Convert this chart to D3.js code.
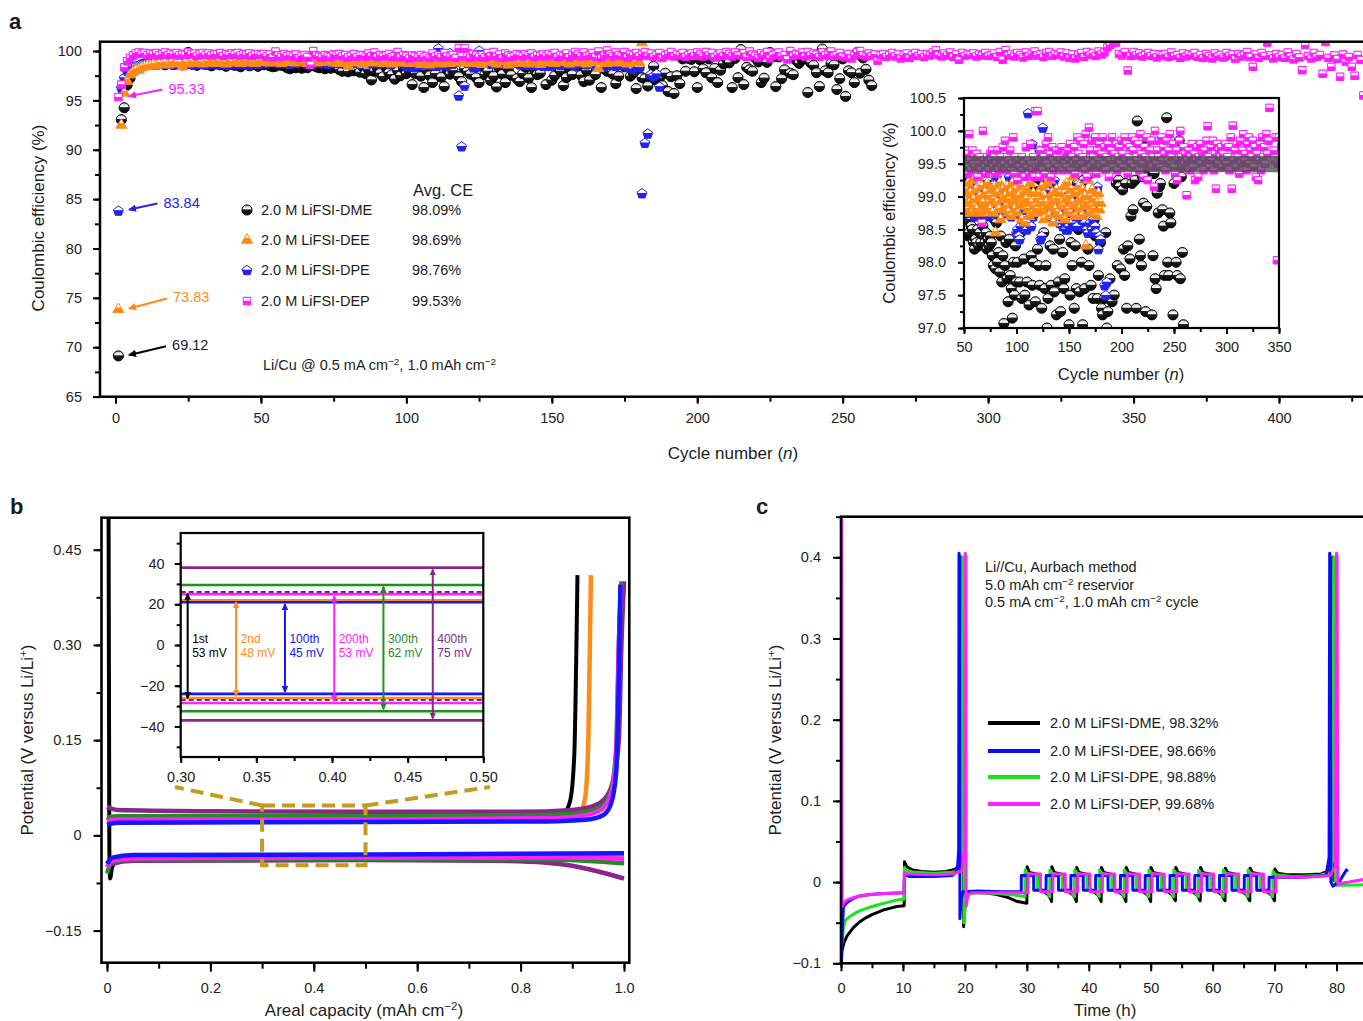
<!DOCTYPE html>
<html>
<head>
<meta charset="utf-8">
<script src="https://cdn.jsdelivr.net/npm/d3@7/dist/d3.min.js"></script>
<style>
html,body{margin:0;padding:0;background:#fff;}
svg{display:block;}
text{font-family:"Liberation Sans",Arial,Helvetica,sans-serif;fill:#1c1c1c;}
</style>
</head>
<body>
<svg id="fig" width="1363" height="1021"></svg>
<script>
// ================= DATA =================
// ---- Panel a : Coulombic efficiency (%) per cycle, starting at cycle 1 ----
const seriesA = ["2.0 M LiFSI-DME","2.0 M LiFSI-DEE","2.0 M LiFSI-DPE","2.0 M LiFSI-DEP"];
const avgCEA = ["98.09%","98.69%","98.76%","99.53%"];
const firstCE = [69.12, 73.83, 83.84, 95.33];

const ceDME = [
69.12,93.05,94.25,96.55,97.25,97.95,98.3,98.45,98.6,98.7,
98.75,98.8,98.65,98.9,98.7,98.85,98.6,98.95,98.8,98.7,
98.9,98.75,98.6,98.85,99.85,98.7,98.8,98.55,98.9,98.7,
98.65,98.8,98.5,98.75,98.9,98.6,98.7,98.45,98.8,98.65,
98.55,98.75,98.4,98.7,98.85,98.5,98.6,98.75,98.45,98.7,
98.6,98.75,98.5,98.4,98.45,98.65,98.55,98.5,98.3,98.2,
98.35,98.3,98.5,98.25,98.45,98.3,98.7,98.55,98.4,98.3,
98.45,98.2,98.35,98.25,98.4,98.3,98.1,97.95,98.65,97.9,
98.6,98.0,98.15,97.85,98.4,97.7,98.1,97.07,97.95,98.3,
97.75,97.4,98.35,97.8,97.6,97.15,98.0,97.5,98.25,97.7,
98.0,96.6,97.7,98.45,97.45,96.3,98.05,97.5,96.8,97.7,
98.55,97.35,96.4,98.1,97.65,98.0,99.15,97.4,96.9,98.2,
97.95,97.65,99.25,97.3,96.8,98.45,97.6,97.95,97.0,97.45,
96.35,98.25,97.65,96.8,98.2,97.55,99.05,97.2,96.9,97.7,
98.35,97.25,96.3,98.15,97.6,97.75,98.55,96.6,99.0,97.05,
97.5,98.3,97.95,96.5,97.3,98.25,97.6,99.2,98.5,97.55,
96.9,98.0,97.05,99.25,97.6,98.55,96.3,98.2,97.95,99.35,
97.65,96.7,97.45,98.65,98.4,99.1,97.45,97.8,96.2,98.3,
97.3,97.2,96.45,97.45,98.45,97.0,97.25,96.5,97.75,95.9,
97.4,95.7,97.5,96.7,99.2,97.95,99.25,99.15,97.9,96.3,
99.1,98.2,97.8,99.2,97.3,98.25,96.8,98.05,98.7,99.2,
98.8,96.3,99.25,97.3,100.15,96.6,98.35,98.1,97.95,99.3,
98.9,96.8,97.25,98.85,99.85,99.4,96.4,99.4,97.2,98.1,
99.35,97.75,97.6,99.05,98.75,99.15,99.2,95.8,98.8,98.55,
97.8,96.4,100.2,98.0,97.8,98.75,98.6,96.1,97.2,99.2,
95.4,98.0,97.8,96.8,99.85,97.75,99.3,98.15,97.05,96.5
];
const ceDEE = [
73.83,92.5,95.75,96.95,97.6,97.85,98.05,98.1,98.3,98.4,
98.45,98.5,98.6,98.55,98.7,98.65,98.75,98.6,98.8,99.55,
98.7,98.75,98.4,98.8,98.7,98.85,98.75,98.9,98.8,98.7,
98.85,98.8,98.9,98.75,98.95,98.8,98.85,98.7,98.9,98.8,
98.85,98.95,98.75,98.9,98.8,99.0,98.85,98.75,98.9,98.85,
98.95,99.1,98.8,99.2,98.9,99.05,98.75,99.25,98.95,98.85,
99.1,98.8,99.3,98.95,99.0,98.75,99.15,98.9,98.8,99.05,
98.85,99.2,98.9,99.0,98.8,99.1,98.75,98.95,99.15,98.45,
98.9,99.05,98.8,99.2,98.65,98.95,99.1,98.8,99.0,98.85,
99.15,98.75,98.95,99.05,98.7,99.2,98.9,98.8,99.1,98.95,
98.75,99.0,98.85,99.15,98.65,98.9,99.05,98.6,98.95,99.1,
98.8,98.7,99.2,98.9,98.75,99.05,98.85,99.3,98.8,98.95,
99.05,98.75,98.9,99.15,98.8,98.65,99.0,98.9,99.2,98.85,
98.7,99.25,98.9,99.05,98.6,98.95,98.8,99.1,98.75,98.95,
99.05,98.7,98.9,98.85,99.15,98.65,98.95,99.2,98.8,99.0,
98.75,99.1,98.9,99.3,98.85,98.7,99.05,98.9,99.15,98.8,
98.95,98.7,99.1,98.85,99.0,98.25,98.9,99.25,98.75,99.0,
98.85,99.1,98.8,98.95,99.35,98.7,98.9,99.05,98.8,98.9,
100.85
];
const ceDPE = [
83.84,96.3,97.3,98.0,98.3,98.4,98.5,98.55,98.6,98.65,
98.7,98.6,98.75,98.65,98.7,98.8,98.65,98.75,98.7,98.6,
98.75,98.7,98.65,98.8,98.7,98.75,98.6,98.8,98.7,98.75,
98.65,98.8,98.7,98.75,98.65,98.8,98.7,98.6,98.75,98.7,
98.8,98.65,98.75,98.7,98.85,98.6,98.75,98.8,98.7,98.75,
99.15,98.8,99.3,98.9,99.05,98.75,99.2,98.85,99.0,98.7,
99.1,98.8,99.35,98.95,99.0,98.75,98.9,99.15,98.85,99.0,
98.8,99.25,98.7,98.95,99.1,98.85,98.75,99.0,98.9,99.2,
99.3,98.8,99.1,98.7,98.95,99.05,98.75,98.9,98.8,99.1,
98.75,98.95,99.3,98.85,98.7,99.0,98.9,99.3,98.75,98.45,
98.5,98.4,98.35,98.55,98.7,98.9,98.6,98.8,98.55,98.5,
100.27,98.6,98.85,98.55,99.8,98.7,98.9,95.5,90.35,96.5,
98.8,99.7,98.35,98.4,100.05,98.9,99.05,99.65,98.7,99.0,
98.85,99.1,98.75,99.2,98.95,99.25,98.8,99.1,98.65,98.9,
98.6,98.95,98.7,98.55,98.8,98.6,98.5,98.65,98.5,98.55,
98.75,98.9,98.6,99.1,98.85,98.7,99.0,98.55,99.2,98.8,
99.15,98.65,98.9,98.75,98.6,98.95,98.5,98.45,98.8,98.6,
98.9,98.5,98.65,98.85,98.55,98.45,99.15,98.2,98.4,98.35,
85.6,90.7,91.65,97.65,97.5,97.7,96.4
];
const ceDEP = [
95.33,96.6,98.35,98.95,99.3,99.55,99.75,99.85,99.7,99.8,
99.6,99.75,99.65,99.8,99.55,99.7,99.85,99.6,99.75,99.65,
99.8,99.55,99.7,99.6,99.85,99.65,99.75,99.5,99.7,99.8,
99.6,99.75,99.55,99.7,99.65,99.8,99.5,99.7,99.6,99.75,
99.65,99.8,99.55,99.7,99.6,99.75,99.5,99.65,99.7,99.6,
99.7,99.45,99.65,99.35,99.95,99.55,99.4,99.7,99.5,99.6,
99.45,99.65,99.3,99.5,99.6,99.4,98.6,100.0,99.55,99.45,
99.35,99.6,99.5,99.4,99.65,99.55,99.7,99.45,99.6,99.35,
99.5,99.7,99.4,99.55,99.6,99.45,99.75,99.5,99.85,99.4,
99.6,99.45,99.55,99.7,99.4,99.5,99.9,99.35,99.6,99.5,
99.25,99.55,99.45,99.35,99.6,99.4,99.5,99.3,99.75,99.45,
99.55,99.35,99.8,99.5,99.4,99.6,99.3,100.3,99.45,100.3,
99.5,99.3,99.7,99.55,99.4,99.6,99.35,99.8,99.5,99.9,
99.45,99.65,99.3,99.75,99.55,99.4,99.5,99.7,99.6,99.45,
99.7,99.55,99.75,99.4,99.6,99.5,99.65,99.45,99.7,99.55,
99.8,99.4,99.6,99.5,99.75,99.35,99.55,99.9,99.65,99.45,
99.85,99.5,99.6,99.8,99.4,99.95,99.3,99.55,100.05,99.7,
99.45,99.85,99.6,99.5,99.9,99.35,99.7,99.55,99.8,99.45,
99.65,99.9,99.5,99.75,99.4,99.6,99.8,99.3,99.55,99.7,
99.9,99.45,99.65,99.55,99.8,99.4,99.6,99.75,99.5,99.85,
99.65,99.45,99.9,99.55,99.8,99.35,99.6,99.75,99.5,99.9,
99.7,99.45,99.85,99.6,99.55,99.8,99.4,99.95,99.65,99.5,
99.3,99.75,99.6,99.9,99.25,99.55,99.7,99.85,99.45,99.6,
99.15,100.0,99.5,99.7,99.6,99.85,99.45,99.9,99.55,99.75,
99.65,99.4,99.85,99.55,99.7,99.95,99.5,99.6,99.8,99.45,
99.35,99.7,99.25,99.55,99.85,100.0,99.6,99.45,99.75,99.5,
99.65,99.02,99.55,99.7,99.4,99.6,99.8,99.45,99.65,99.25,
99.55,99.75,99.3,99.6,99.8,99.5,99.65,99.4,99.7,99.55,
99.85,100.07,99.6,99.45,99.75,99.55,99.85,99.4,99.65,99.12,
99.8,99.5,99.7,99.6,99.75,99.45,99.65,99.55,99.8,99.5,
99.6,99.75,99.4,99.9,99.12,100.08,99.55,99.7,99.45,99.8,
99.6,99.35,99.85,99.5,99.7,99.95,99.55,99.65,99.4,99.8,
99.9,99.5,99.7,99.6,99.85,99.45,99.75,99.3,99.65,99.25,
99.55,99.8,99.4,99.9,99.6,99.75,99.5,99.95,99.65,99.85,
100.35,100.6,100.8,100.85,99.7,99.55,99.9,98.03,99.5,99.9,
99.55,99.75,99.45,99.6,99.8,99.5,99.7,99.35,99.65,99.55,
99.7,99.4,99.85,99.5,99.6,99.3,99.75,99.45,99.65,99.55,
99.8,99.4,99.6,99.3,99.7,99.5,99.25,99.75,99.45,99.6,
99.35,99.8,99.5,99.65,99.2,99.7,99.45,99.6,99.9,99.4,
98.4,99.65,99.3,99.8,99.5,100.85,99.55,99.25,99.7,99.4,
99.6,99.3,99.85,99.45,99.15,99.7,99.35,98.05,100.6,99.5,
99.25,99.8,99.4,99.6,97.7,100.9,99.3,98.4,99.55,99.2,
97.4,99.65,98.9,99.4,98.4,97.5,99.6,99.1,95.5
];
const ticksAx = [0,50,100,150,200,250,300,350,400];
const ticksAy = [65,70,75,80,85,90,95,100];
const ticksInsetX = [50,100,150,200,250,300,350];
const ticksInsetY = [97.0,97.5,98.0,98.5,99.0,99.5,100.0,100.5];
const bandCE = [99.37, 99.62];

// ---- Panel b : voltage profiles [capacity mAh cm-2, potential V] ----
const cycleNamesB = ["1st","2nd","100th","200th","300th","400th"];
const overpotB = ["53 mV","48 mV","45 mV","53 mV","62 mV","75 mV"];
const plate1st = [[0,0.52],[0.003,0.52],[0.0045,-0.02],[0.006,-0.068],[0.01,-0.05],[0.02,-0.04],[0.05,-0.035],[0.2,-0.033],[0.5,-0.033],[0.8,-0.034],[1.0,-0.035]];
const strip1st = [[0,0.024],[0.01,0.026],[0.3,0.026],[0.6,0.027],[0.8,0.028],[0.86,0.031],[0.885,0.037],[0.896,0.055],[0.904,0.13],[0.908,0.3],[0.91,0.41]];
const plate2nd = [[0,-0.05],[0.01,-0.04],[0.05,-0.034],[0.5,-0.033],[1.0,-0.034]];
const strip2nd = [[0,0.02],[0.3,0.022],[0.8,0.023],[0.9,0.027],[0.915,0.035],[0.925,0.06],[0.931,0.15],[0.934,0.3],[0.936,0.41]];
const plate100 = [[0,-0.045],[0.01,-0.035],[0.05,-0.031],[0.5,-0.03],[1.0,-0.028]];
const strip100 = [[0,0.017],[0.02,0.02],[0.5,0.021],[0.85,0.022],[0.93,0.025],[0.96,0.032],[0.975,0.05],[0.985,0.1],[0.99,0.25],[0.993,0.395]];
const plate200 = [[0,-0.05],[0.01,-0.04],[0.05,-0.036],[0.5,-0.035],[0.9,-0.035],[1.0,-0.037]];
const strip200 = [[0,0.022],[0.02,0.025],[0.5,0.025],[0.85,0.027],[0.92,0.031],[0.955,0.04],[0.975,0.065],[0.985,0.13],[0.99,0.3],[0.994,0.395]];
const plate300 = [[0,-0.06],[0.01,-0.042],[0.05,-0.038],[0.5,-0.037],[0.85,-0.038],[0.95,-0.041],[1.0,-0.044]];
const strip300 = [[0,0.028],[0.02,0.03],[0.5,0.03],[0.85,0.032],[0.92,0.036],[0.955,0.045],[0.975,0.07],[0.985,0.14],[0.99,0.3],[0.995,0.4]];
const plate400 = [[0,-0.05],[0.01,-0.045],[0.05,-0.04],[0.5,-0.039],[0.75,-0.04],[0.85,-0.043],[0.9,-0.048],[0.95,-0.057],[1.0,-0.068]];
const strip400 = [[0,0.045],[0.02,0.04],[0.2,0.038],[0.5,0.037],[0.8,0.037],[0.9,0.04],[0.94,0.046],[0.965,0.06],[0.98,0.09],[0.99,0.15],[0.995,0.3],[1.0,0.4]];
// inset (mV) plateau levels at 0.30-0.50 mAh cm-2
const insetUpperMV = [26, 22, 21, 25, 29.5, 38];
const insetLowerMV = [-27, -26, -24, -28.5, -32.5, -37];
const ticksBx = [0,0.2,0.4,0.6,0.8,1.0];
const ticksBy = [-0.15,0,0.15,0.30,0.45];
const ticksBinX = [0.30,0.35,0.40,0.45,0.50];
const ticksBinY = [-40,-20,0,20,40];

// ---- Panel c : Aurbach test [time h, potential V] ----
const legendC = ["2.0 M LiFSI-DME, 98.32%","2.0 M LiFSI-DEE, 98.66%","2.0 M LiFSI-DPE, 98.88%","2.0 M LiFSI-DEP, 99.68%"];
const aurDME = [[0.05,-0.1],[0.15,-0.085],[0.5,-0.074],[1,-0.066],[2,-0.056],[3,-0.049],[4,-0.044],[5,-0.04],[6,-0.037],[7,-0.034],[8,-0.032],[9,-0.03],[10.2,-0.029],
[10.25,0.025],[10.6,0.019],[11.5,0.015],[13,0.013],[15,0.012],[17,0.013],[18.5,0.016],[19.2,0.022],[19.45,0.05],[19.55,0.25],[19.6,0.4],[19.7,0.4],
[19.8,-0.055],[20.0,-0.03],[20.3,-0.015],[21,-0.012],[23,-0.013],[25,-0.015],[27,-0.019],[28.5,-0.024],[30,-0.026],
[30.05,0.019],[30.4,0.012],[32,0.009],[32.03,-0.008],[32.8,-0.012],[33.5,-0.016],[33.85,-0.021],[34,-0.024],
[34.05,0.019],[34.4,0.012],[36,0.009],[36.03,-0.008],[36.8,-0.012],[37.5,-0.016],[37.85,-0.021],[38,-0.024],
[38.05,0.018],[38.4,0.012],[40,0.009],[40.03,-0.008],[40.8,-0.012],[41.5,-0.016],[41.85,-0.021],[42,-0.024],
[42.05,0.018],[42.4,0.012],[44,0.009],[44.03,-0.008],[44.8,-0.012],[45.5,-0.016],[45.85,-0.021],[46,-0.024],
[46.05,0.018],[46.4,0.012],[48,0.009],[48.03,-0.008],[48.8,-0.012],[49.5,-0.016],[49.85,-0.021],[50,-0.024],
[50.05,0.018],[50.4,0.012],[52,0.009],[52.03,-0.008],[52.8,-0.012],[53.5,-0.016],[53.85,-0.021],[54,-0.023],
[54.05,0.018],[54.4,0.012],[56,0.009],[56.03,-0.008],[56.8,-0.012],[57.5,-0.016],[57.85,-0.021],[58,-0.023],
[58.05,0.018],[58.4,0.012],[60,0.009],[60.03,-0.008],[60.8,-0.012],[61.5,-0.016],[61.85,-0.021],[62,-0.023],
[62.05,0.017],[62.4,0.012],[64,0.009],[64.03,-0.008],[64.8,-0.012],[65.5,-0.016],[65.85,-0.021],[66,-0.023],
[66.05,0.017],[66.4,0.012],[68,0.009],[68.03,-0.008],[68.8,-0.012],[69.5,-0.016],[69.85,-0.021],[70,-0.023],
[70.05,0.016],[70.5,0.011],[72,0.009],[75,0.009],[77.5,0.01],[78.8,0.014],[79.2,0.03],[79.4,0.4],[79.5,0.4],[79.6,0.0]];
const aurDEE = [[0.05,-0.095],[0.2,-0.06],[0.4,-0.03],[1,-0.025],[2,-0.02],[3,-0.017],[5,-0.015],[7,-0.014],[10.2,-0.013],
[10.25,0.009],[11,0.007],[15,0.007],[18,0.008],[18.8,0.015],[19.0,0.04],[19.05,0.405],[19.15,0.4],[19.2,-0.045],[19.4,-0.02],[19.7,-0.012],[22,-0.011],[26,-0.012],[29.1,-0.012],
[29.12,0.008],[31.1,0.008],[31.12,-0.01],[33.1,-0.01],
[33.12,0.008],[35.1,0.008],[35.12,-0.01],[37.1,-0.01],
[37.12,0.008],[39.1,0.008],[39.12,-0.01],[41.1,-0.01],
[41.12,0.008],[43.1,0.008],[43.12,-0.01],[45.1,-0.01],
[45.12,0.008],[47.1,0.008],[47.12,-0.01],[49.1,-0.01],
[49.12,0.008],[51.1,0.008],[51.12,-0.01],[53.1,-0.01],
[53.12,0.008],[55.1,0.008],[55.12,-0.01],[57.1,-0.01],
[57.12,0.008],[59.1,0.008],[59.12,-0.01],[61.1,-0.01],
[61.12,0.008],[63.1,0.008],[63.12,-0.01],[65.1,-0.01],
[65.12,0.008],[67.1,0.008],[67.12,-0.01],[69.1,-0.01],
[69.12,0.006],[74,0.006],[78.3,0.008],[78.8,0.03],[78.9,0.405],[79.0,0.4],[79.1,0.0],[79.4,-0.005],[80.4,0.0],[81.2,0.01],[81.6,0.015],[81.8,0.013]];
const aurDPE = [[0.2,-0.075],[0.4,-0.055],[0.7,-0.047],[1.5,-0.042],[2.5,-0.037],[3.5,-0.034],[5,-0.03],[6.5,-0.027],[8,-0.024],[9,-0.022],[10.2,-0.021],
[10.25,0.018],[10.6,0.014],[12,0.012],[15,0.011],[18,0.012],[19.2,0.016],[19.5,0.03],[19.6,0.2],[19.65,0.4],[19.75,0.4],
[19.85,-0.05],[20.1,-0.025],[20.5,-0.015],[22,-0.013],[25,-0.014],[28,-0.016],[29.7,-0.018],
[29.73,0.015],[30.1,0.011],[31.7,0.008],[31.73,-0.007],[32.5,-0.01],[33.2,-0.012],[33.55,-0.016],[33.7,-0.018],
[33.73,0.015],[34.1,0.011],[35.7,0.008],[35.73,-0.007],[36.5,-0.01],[37.2,-0.012],[37.55,-0.016],[37.7,-0.018],
[37.73,0.015],[38.1,0.011],[39.7,0.008],[39.73,-0.007],[40.5,-0.01],[41.2,-0.012],[41.55,-0.016],[41.7,-0.018],
[41.73,0.015],[42.1,0.011],[43.7,0.008],[43.73,-0.007],[44.5,-0.01],[45.2,-0.012],[45.55,-0.016],[45.7,-0.018],
[45.73,0.015],[46.1,0.011],[47.7,0.008],[47.73,-0.007],[48.5,-0.01],[49.2,-0.012],[49.55,-0.016],[49.7,-0.018],
[49.73,0.015],[50.1,0.011],[51.7,0.008],[51.73,-0.007],[52.5,-0.01],[53.2,-0.012],[53.55,-0.016],[53.7,-0.018],
[53.73,0.015],[54.1,0.011],[55.7,0.008],[55.73,-0.007],[56.5,-0.01],[57.2,-0.012],[57.55,-0.016],[57.7,-0.018],
[57.73,0.015],[58.1,0.011],[59.7,0.008],[59.73,-0.007],[60.5,-0.01],[61.2,-0.012],[61.55,-0.016],[61.7,-0.018],
[61.73,0.015],[62.1,0.011],[63.7,0.008],[63.73,-0.007],[64.5,-0.01],[65.2,-0.012],[65.55,-0.016],[65.7,-0.018],
[65.73,0.015],[66.1,0.011],[67.7,0.008],[67.73,-0.007],[68.5,-0.01],[69.2,-0.012],[69.55,-0.016],[69.7,-0.018],
[69.73,0.013],[70.2,0.009],[73,0.007],[77,0.008],[79,0.012],[79.4,0.03],[79.55,0.4],[79.65,0.4],[79.8,-0.004],[82,-0.004],[85,-0.003]];
const aurDEP = [[0.08,0.5],[0.12,0.1],[0.2,-0.03],[0.4,-0.026],[1,-0.022],[2,-0.019],[4,-0.016],[7,-0.014],[10.2,-0.013],
[10.25,0.011],[11,0.01],[15,0.009],[18,0.01],[19.5,0.014],[19.9,0.04],[20.05,0.405],[20.15,0.4],[20.2,-0.03],[20.5,-0.016],[21,-0.013],[25,-0.013],[30.2,-0.013],
[30.22,0.01],[32.2,0.01],[32.22,-0.012],[34.2,-0.012],
[34.22,0.01],[36.2,0.01],[36.22,-0.012],[38.2,-0.012],
[38.22,0.01],[40.2,0.01],[40.22,-0.012],[42.2,-0.012],
[42.22,0.01],[44.2,0.01],[44.22,-0.012],[46.2,-0.012],
[46.22,0.01],[48.2,0.01],[48.22,-0.012],[50.2,-0.012],
[50.22,0.01],[52.2,0.01],[52.22,-0.012],[54.2,-0.012],
[54.22,0.01],[56.2,0.01],[56.22,-0.012],[58.2,-0.012],
[58.22,0.01],[60.2,0.01],[60.22,-0.012],[62.2,-0.012],
[62.22,0.01],[64.2,0.01],[64.22,-0.012],[66.2,-0.012],
[66.22,0.01],[68.2,0.01],[68.22,-0.012],[70.2,-0.012],
[70.22,0.007],[75,0.006],[79,0.008],[79.8,0.02],[80.0,0.405],[80.1,0.4],[80.2,-0.002],[82,0.0],[85,0.004]];
const ticksCx = [0,10,20,30,40,50,60,70,80];
const ticksCy = [-0.1,0,0.1,0.2,0.3,0.4];

// ================= DRAWING =================
const svg = d3.select("#fig");
const defs = svg.append("defs");
const TXT = "#1c1c1c";
const FS = 14.5;
const minus = s => s.replace("-", "\u2212");

function richText(parent, x, y, parts, opt = {}) {
  const t = parent.append("text").attr("x", x).attr("y", y)
    .attr("font-size", opt.fs || FS).attr("text-anchor", opt.anchor || "start");
  if (opt.fill) t.style("fill", opt.fill);
  if (opt.weight) t.attr("font-weight", opt.weight);
  if (opt.rotate) t.attr("transform", `rotate(${opt.rotate},${x},${y})`);
  parts.forEach(p => {
    const s = t.append("tspan").text(p[0]);
    if (p[1] === "sup") s.attr("baseline-shift", "super").attr("font-size", (opt.fs || FS) * 0.68);
    if (p[1] === "it") s.attr("font-style", "italic");
  });
  return t;
}

function styleAxis(g, fs) {
  g.select(".domain").remove();
  g.selectAll("line").attr("stroke", "#000").attr("stroke-width", 2);
  g.selectAll("text").attr("font-size", fs).attr("font-family", null);
  g.attr("font-family", null);
}
function addAxis(parent, axisFn, scale, minor, major, fmt, tMin, tMaj, pad, fs) {
  const g1 = parent.append("g").call(axisFn(scale).tickValues(minor).tickSize(tMin).tickFormat(""));
  styleAxis(g1, fs);
  const g2 = parent.append("g").call(axisFn(scale).tickValues(major).tickSize(tMaj).tickPadding(pad).tickFormat(fmt));
  styleAxis(g2, fs);
}

function arrowMarker(id, color, w) {
  defs.append("marker").attr("id", id).attr("viewBox", "0 0 10 10")
    .attr("refX", 8).attr("refY", 5).attr("markerWidth", w).attr("markerHeight", w)
    .attr("orient", "auto-start-reverse").attr("markerUnits", "strokeWidth")
    .append("path").attr("d", "M0,0.5L10,5L0,9.5z").attr("fill", color);
}

// ---------- PANEL A ----------
const colA = ["#000000", "#ff8a12", "#2323f0", "#ff1cff"];
colA.forEach((c, i) => {
  const g = defs.append("linearGradient").attr("id", "gA" + i)
    .attr("x1", 0).attr("y1", 0).attr("x2", 0).attr("y2", 1);
  const stops = i === 0
    ? [[0, "#7a7a7a"], [0.2, "#e0e0e0"], [0.4, "#ffffff"], [0.48, "#222"], [1, "#000"]]
    : [[0, c], [0.12, "#ffffff"], [0.42, "#ffffff"], [0.5, c], [1, c]];
  stops.forEach(s => g.append("stop").attr("offset", s[0]).attr("stop-color", s[1]));
});
const symbolPentagon = {
  draw(ctx, size) {
    const r = Math.sqrt(size / (2.5 * Math.sin(2 * Math.PI / 5)));
    for (let i = 0; i < 5; i++) {
      const a = -Math.PI / 2 + i * 2 * Math.PI / 5;
      const x = r * Math.cos(a), y = r * Math.sin(a) + r * 0.1;
      if (i === 0) ctx.moveTo(x, y); else ctx.lineTo(x, y);
    }
    ctx.closePath();
  }
};
const symA = [d3.symbolCircle, d3.symbolTriangle, symbolPentagon, d3.symbolSquare];
const sizeA = [80, 52, 64, 56];
const dataA = [ceDME, ceDEE, ceDPE, ceDEP];
const drawOrder = [0, 2, 1, 3];

const xA = d3.scaleLinear().domain([0, 400]).range([115.5, 1279]);
const yA = d3.scaleLinear().domain([65, 100]).range([396.6, 51]);
const aL = 100, aT = 41.7, aB = 396.7;

svg.append("text").attr("x", 9).attr("y", 29).attr("font-size", 22).attr("font-weight", "bold").text("a");

defs.append("clipPath").attr("id", "clipA").append("rect")
  .attr("x", aL).attr("y", aT).attr("width", 1400).attr("height", aB - aT);
const gA = svg.append("g");
const ptsA = gA.append("g").attr("clip-path", "url(#clipA)");
function drawPoints(g, idx, xs, ys) {
  g.append("g").selectAll("path").data(dataA[idx].map((v, k) => [k + 1, v])).join("path")
    .attr("d", d3.symbol(symA[idx], sizeA[idx]))
    .attr("transform", d => `translate(${xs(d[0])},${ys(d[1])})`)
    .attr("fill", `url(#gA${idx})`).attr("stroke", colA[idx]).attr("stroke-width", 1);
}
drawOrder.forEach(i => drawPoints(ptsA, i, xA, yA));

gA.append("rect").attr("x", aL).attr("y", aT).attr("width", 1400).attr("height", aB - aT)
  .attr("fill", "none").attr("stroke", "#000").attr("stroke-width", 2.5);

const axAy = gA.append("g").attr("transform", `translate(${aL},0)`);
addAxis(axAy, d3.axisLeft, yA, d3.range(65, 100.1, 2.5), ticksAy, d3.format("d"), 5, 7, 11, FS);
const axAx = gA.append("g").attr("transform", `translate(0,${aB})`);
addAxis(axAx, d3.axisBottom, xA, d3.range(0, 426, 25), ticksAx, d3.format("d"), 5, 7, 9, FS);

richText(gA, 44, 218, [["Coulombic efficiency (%)"]], { fs: 17, anchor: "middle", rotate: -90 });
richText(gA, 733, 459, [["Cycle number ("], ["n", "it"], [")"]], { fs: 17, anchor: "middle" });

// first-cycle annotations
const annOff = [[36.7, -8.6], [37.6, -10], [28, -6], [33, -6.6]];
firstCE.forEach((v, i) => {
  const id = "arA" + i;
  arrowMarker(id, colA[i], 4.2);
  const tx = xA(1) + 11, ty = yA(v) - 1;
  const sx = tx + annOff[i][0], sy = ty + annOff[i][1];
  gA.append("line").attr("x1", sx).attr("y1", sy).attr("x2", tx).attr("y2", ty)
    .attr("stroke", colA[i]).attr("stroke-width", 2).attr("marker-end", `url(#${id})`);
  gA.append("text").attr("x", sx + 6).attr("y", sy + 4).attr("font-size", FS)
    .style("fill", i === 0 ? TXT : colA[i]).text(v.toFixed(2));
});

// legend
const legY = [210, 240, 270, 301];
seriesA.forEach((s, i) => {
  gA.append("path").attr("d", d3.symbol(symA[i], sizeA[i])())
    .attr("transform", `translate(247,${legY[i]})`)
    .attr("fill", `url(#gA${i})`).attr("stroke", colA[i]).attr("stroke-width", 1);
  gA.append("text").attr("x", 261).attr("y", legY[i] + 5).attr("font-size", FS).text(s);
  gA.append("text").attr("x", 412).attr("y", legY[i] + 5).attr("font-size", FS).text(avgCEA[i]);
});
gA.append("text").attr("x", 413).attr("y", 196).attr("font-size", 16.5).text("Avg. CE");
richText(gA, 263, 370, [["Li/Cu @ 0.5 mA cm"], ["\u22122", "sup"], [", 1.0 mAh cm"], ["\u22122", "sup"]], { fs: FS });

// inset a
const xI = d3.scaleLinear().domain([50, 350]).range([964, 1279]);
const yI = d3.scaleLinear().domain([97, 100.5]).range([328, 98]);
const gI = svg.append("g");
gI.append("rect").attr("x", 964).attr("y", 98).attr("width", 315).attr("height", 230).attr("fill", "#fff");
defs.append("clipPath").attr("id", "clipI").append("rect").attr("x", 964).attr("y", 98).attr("width", 315).attr("height", 230);
const ptsI = gI.append("g").attr("clip-path", "url(#clipI)");
drawOrder.forEach(i => drawPoints(ptsI, i, xI, yI));
ptsI.append("rect").attr("x", 964).attr("width", 315)
  .attr("y", yI(bandCE[1])).attr("height", yI(bandCE[0]) - yI(bandCE[1]))
  .attr("fill", "#505050").attr("opacity", 0.8);
gI.append("rect").attr("x", 964).attr("y", 98).attr("width", 315).attr("height", 230)
  .attr("fill", "none").attr("stroke", "#000").attr("stroke-width", 2.2);
const axIy = gI.append("g").attr("transform", "translate(964,0)");
addAxis(axIy, d3.axisLeft, yI, d3.range(0, 15).map(k => 97 + k * 0.25), ticksInsetY, d3.format(".1f"), 4, 6, 12, FS);
const axIx = gI.append("g").attr("transform", "translate(0,328)");
addAxis(axIx, d3.axisBottom, xI, d3.range(50, 351, 25), ticksInsetX, d3.format("d"), 4, 6, 8, FS);
richText(gI, 895, 213, [["Coulombic efficiency (%)"]], { fs: 16.5, anchor: "middle", rotate: -90 });
richText(gI, 1121, 380, [["Cycle number ("], ["n", "it"], [")"]], { fs: 16.5, anchor: "middle" });

// ---------- PANEL B ----------
const colB = ["#000000", "#ff8c1a", "#1515ff", "#ff22ff", "#1f8f1f", "#8a268a"];
const platesB = [plate1st, plate2nd, plate100, plate200, plate300, plate400];
const stripsB = [strip1st, strip2nd, strip100, strip200, strip300, strip400];
const xB = d3.scaleLinear().domain([0, 1]).range([107, 624]);
const yB = d3.scaleLinear().domain([-0.2, 0.5]).range([962.3, 518]);
const bL = 101.5, bT = 517.7, bR = 629.3, bBt = 962.7;
svg.append("text").attr("x", 10).attr("y", 514).attr("font-size", 22).attr("font-weight", "bold").text("b");
const gB = svg.append("g");
defs.append("clipPath").attr("id", "clipB").append("rect").attr("x", bL).attr("y", bT).attr("width", bR - bL).attr("height", bBt - bT);
const curvesB = gB.append("g").attr("clip-path", "url(#clipB)");
const lineB = d3.line().x(d => xB(d[0])).y(d => yB(d[1])).curve(d3.curveMonotoneX);
const orderB = [0, 1, 5, 4, 3, 2];
orderB.forEach(i => {
  [platesB[i], stripsB[i]].forEach(arr => {
    curvesB.append("path").attr("d", lineB(arr)).attr("fill", "none")
      .attr("stroke", colB[i]).attr("stroke-width", i === 0 ? 4 : 4.5).attr("stroke-linejoin", "round");
  });
});
// zoom box
const gold = "#c39a22";
const zb = gB.append("g").attr("stroke", gold).attr("stroke-width", 4).attr("fill", "none").attr("stroke-dasharray", "13,7");
zb.append("rect").attr("x", xB(0.3)).attr("y", yB(0.047)).attr("width", xB(0.5) - xB(0.3)).attr("height", yB(-0.047) - yB(0.047));
zb.append("line").attr("x1", xB(0.3)).attr("y1", yB(0.047)).attr("x2", 175).attr("y2", 787);
zb.append("line").attr("x1", xB(0.5)).attr("y1", yB(0.047)).attr("x2", 490).attr("y2", 787);

gB.append("rect").attr("x", bL).attr("y", bT).attr("width", bR - bL).attr("height", bBt - bT)
  .attr("fill", "none").attr("stroke", "#000").attr("stroke-width", 2.6);
const fmtB = v => Math.abs(v) < 1e-9 ? "0" : minus(v.toFixed(2));
addAxis(gB.append("g").attr("transform", `translate(${bL},0)`), d3.axisLeft, yB,
  d3.range(-2, 7).map(k => k * 0.075), ticksBy, fmtB, 5, 8, 12, FS);
addAxis(gB.append("g").attr("transform", `translate(0,${bBt})`), d3.axisBottom, xB,
  d3.range(0, 11).map(k => k * 0.1), ticksBx, v => v === 0 ? "0" : v.toFixed(1), 6, 9, 11, FS);
richText(gB, 33, 740, [["Potential (V versus Li/Li"], ["+", "sup"], [")"]], { fs: 17, anchor: "middle", rotate: -90 });
richText(gB, 364, 1016, [["Areal capacity (mAh cm"], ["\u22122", "sup"], [")"]], { fs: 17, anchor: "middle" });

// inset b
const xBi = d3.scaleLinear().domain([0.30, 0.50]).range([180.7, 483.3]);
const yBi = d3.scaleLinear().domain([-55, 55]).range([757, 533]);
const gBi = svg.append("g");
gBi.append("rect").attr("x", 180.7).attr("y", 533).attr("width", 302.6).attr("height", 224).attr("fill", "#fff");
const orderBi = [0, 1, 2, 3, 4, 5];
orderBi.forEach(i => {
  [insetUpperMV[i], insetLowerMV[i]].forEach(v => {
    gBi.append("line").attr("x1", xBi(0.30)).attr("x2", xBi(0.50)).attr("y1", yBi(v)).attr("y2", yBi(v))
      .attr("stroke", colB[i]).attr("stroke-width", i === 0 ? 1.6 : 2.6)
      .attr("stroke-dasharray", i === 0 ? "5,3" : null);
  });
});
const arrowXs = [0.3046, 0.3366, 0.3689, 0.4015, 0.434, 0.4666];
cycleNamesB.forEach((nm, i) => {
  const id = "arB" + i;
  arrowMarker(id, colB[i], 3.6);
  const x = xBi(arrowXs[i]);
  gBi.append("line").attr("x1", x).attr("x2", x)
    .attr("y1", yBi(insetUpperMV[i]) + 2).attr("y2", yBi(insetLowerMV[i]) - 2)
    .attr("stroke", colB[i]).attr("stroke-width", 2)
    .attr("marker-start", `url(#${id})`).attr("marker-end", `url(#${id})`);
  const t = gBi.append("text").attr("font-size", 12).style("fill", colB[i]);
  t.append("tspan").attr("x", x + 4.5).attr("y", 643).text(nm);
  t.append("tspan").attr("x", x + 4.5).attr("y", 656.5).text(overpotB[i]);
});
gBi.append("rect").attr("x", 180.7).attr("y", 533).attr("width", 302.6).attr("height", 224)
  .attr("fill", "none").attr("stroke", "#000").attr("stroke-width", 2.2);
addAxis(gBi.append("g").attr("transform", "translate(180.7,0)"), d3.axisLeft, yBi,
  d3.range(-50, 51, 10), ticksBinY, v => minus(String(v)), 4, 6, 10, FS);
addAxis(gBi.append("g").attr("transform", "translate(0,757)"), d3.axisBottom, xBi,
  d3.range(0, 9).map(k => 0.3 + k * 0.025), ticksBinX, v => v.toFixed(2), 4, 6, 9, FS);

// ---------- PANEL C ----------
const colC = ["#000000", "#0a0aff", "#19e619", "#ff22ff"];
const dataC = [aurDME, aurDEE, aurDPE, aurDEP];
const xC = d3.scaleLinear().domain([0, 80]).range([841, 1336.5]);
const yC = d3.scaleLinear().domain([-0.1, 0.45]).range([963.3, 516.7]);
const cL = 841, cT = 516.7, cBt = 963.3;
svg.append("text").attr("x", 756).attr("y", 514).attr("font-size", 22).attr("font-weight", "bold").text("c");
const gC = svg.append("g");
defs.append("clipPath").attr("id", "clipC").append("rect").attr("x", cL).attr("y", cT).attr("width", 600).attr("height", cBt - cT);
const curvesC = gC.append("g").attr("clip-path", "url(#clipC)");
const lineC = d3.line().x(d => xC(d[0])).y(d => yC(d[1]));
[0, 2, 1, 3].forEach(i => {
  curvesC.append("path").attr("d", lineC(dataC[i])).attr("fill", "none")
    .attr("stroke", colC[i]).attr("stroke-width", 3).attr("stroke-linejoin", "round");
});
gC.append("rect").attr("x", cL).attr("y", cT).attr("width", 600).attr("height", cBt - cT)
  .attr("fill", "none").attr("stroke", "#000").attr("stroke-width", 2.6);
const fmtC = v => Math.abs(v) < 1e-9 ? "0" : minus(v.toFixed(1));
addAxis(gC.append("g").attr("transform", `translate(${cL},0)`), d3.axisLeft, yC,
  d3.range(-2, 10).map(k => k * 0.05), ticksCy, fmtC, 5, 8, 12, FS);
addAxis(gC.append("g").attr("transform", `translate(0,${cBt})`), d3.axisBottom, xC,
  d3.range(0, 18).map(k => k * 5), ticksCx, d3.format("d"), 5, 8, 11, FS);
richText(gC, 781, 740, [["Potential (V versus Li/Li"], ["+", "sup"], [")"]], { fs: 17, anchor: "middle", rotate: -90 });
richText(gC, 1105, 1016, [["Time (h)"]], { fs: 17, anchor: "middle" });
richText(gC, 985, 572, [["Li//Cu, Aurbach method"]], { fs: 14.5 });
richText(gC, 985, 590, [["5.0 mAh cm"], ["\u22122", "sup"], [" reservior"]], { fs: 14.5 });
richText(gC, 985, 607, [["0.5 mA cm"], ["\u22122", "sup"], [", 1.0 mAh cm"], ["\u22122", "sup"], [" cycle"]], { fs: 14.5 });
const legCY = [723, 751, 777, 804];
legendC.forEach((s, i) => {
  gC.append("line").attr("x1", 988).attr("x2", 1040).attr("y1", legCY[i]).attr("y2", legCY[i])
    .attr("stroke", colC[i]).attr("stroke-width", 4);
  gC.append("text").attr("x", 1050).attr("y", legCY[i] + 5).attr("font-size", FS).text(s);
});
</script>
</body>
</html>
